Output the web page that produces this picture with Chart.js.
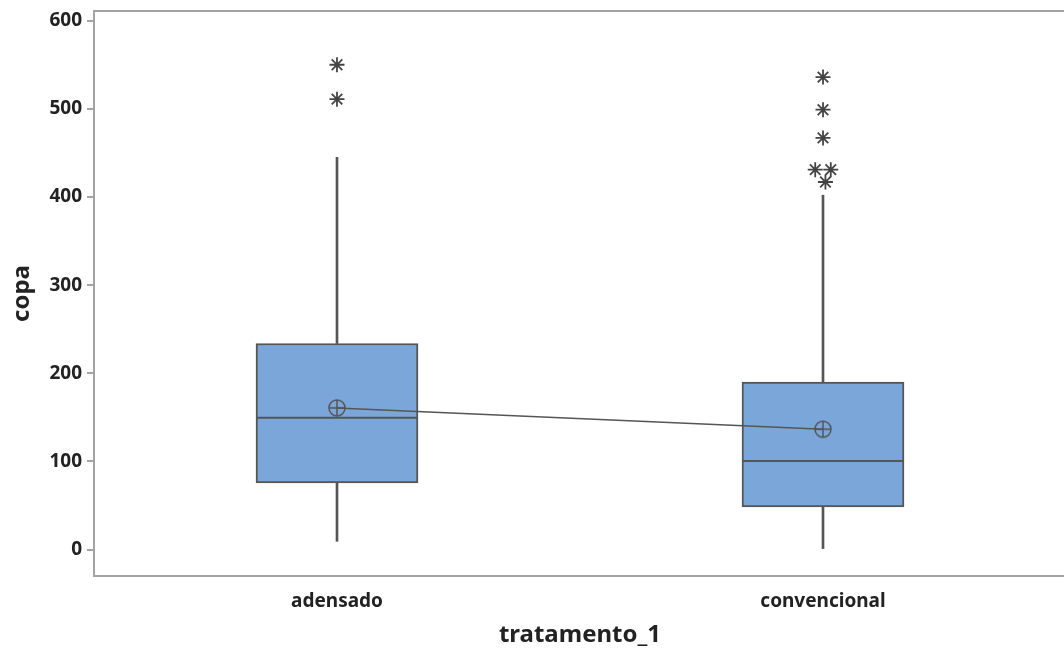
<!DOCTYPE html>
<html>
<head>
<meta charset="utf-8">
<script src="https://cdn.jsdelivr.net/npm/chart.js@4.4.1/dist/chart.umd.min.js"></script>
<style>
  html, body { margin: 0; padding: 0; background: #fff; overflow: hidden; }
  #wrap { width: 1066px; height: 650px; }
</style>
</head>
<body>
<div id="wrap"><canvas id="chart" width="1066" height="650"></canvas></div>
<script>
const categories = ['adensado', 'convencional'];
const q1 = [75.6, 48.4];
const median = [149.4, 100.6];
const q3 = [233.8, 190];
const whiskerLow = [9.4, 0];
const whiskerHigh = [445, 402];
const means = [160.7, 136.5];
// outliers (x = indice da categoria, pequeno deslocamento onde se sobrepõem)
const outlierX = [0, 0, 1, 1, 1, 0.984, 1.016, 1.005];
const outlierY = [550, 511, 536, 499, 467, 431, 431, 417];
const yTicks = [0, 100, 200, 300, 400, 500, 600];

const boxFill = '#7ba6da';
const lineGray = '#555555';
const tickFont = { family: 'Noto Sans', size: 19, weight: 'bold' };
const titleFont = { family: 'Noto Sans', size: 24, weight: 'bold' };

// simbolo da media: circulo com cruz
function meanSymbol() {
  const c = document.createElement('canvas');
  c.width = 20; c.height = 20;
  const g = c.getContext('2d');
  g.strokeStyle = lineGray;
  g.lineWidth = 1.5;
  g.beginPath(); g.arc(10, 10, 8, 0, Math.PI * 2); g.stroke();
  g.beginPath();
  g.moveTo(2, 10); g.lineTo(18, 10);
  g.moveTo(10, 2); g.lineTo(10, 18);
  g.stroke();
  return c;
}

const framePlugin = {
  id: 'frame',
  afterDraw(chart) {
    const { ctx, chartArea: a } = chart;
    ctx.save();
    ctx.strokeStyle = '#a3a3a3';
    ctx.lineWidth = 2;
    ctx.strokeRect(a.left, a.top, a.right - a.left, a.bottom - a.top);
    ctx.restore();
  }
};

const ctx = document.getElementById('chart').getContext('2d');
new Chart(ctx, {
  type: 'bar',
  data: {
    datasets: [
      {
        // bigodes
        data: categories.map((c, i) => ({ x: i, y: [whiskerLow[i], q1[i]] }))
          .concat(categories.map((c, i) => ({ x: i, y: [q3[i], whiskerHigh[i]] }))),
        backgroundColor: lineGray,
        borderWidth: 0,
        barThickness: 2,
        grouped: false,
        order: 5
      },
      {
        // caixas
        data: categories.map((c, i) => ({ x: i, y: [q1[i], q3[i]] })),
        backgroundColor: boxFill,
        borderColor: lineGray,
        borderWidth: 2,
        borderSkipped: false,
        barThickness: 162,
        grouped: false,
        order: 4
      },
      {
        // medianas
        type: 'line',
        data: categories.map((c, i) => ({ x: i, y: median[i] })),
        showLine: false,
        pointStyle: 'line',
        pointRadius: 80,
        pointBorderWidth: 2,
        pointBorderColor: lineGray,
        order: 3
      },
      {
        // medias ligadas
        type: 'line',
        data: categories.map((c, i) => ({ x: i, y: means[i] })),
        borderColor: lineGray,
        borderWidth: 1.5,
        pointStyle: meanSymbol(),
        order: 2
      },
      {
        // outliers
        type: 'scatter',
        data: outlierX.map((x, i) => ({ x: x, y: outlierY[i] })),
        pointStyle: 'star',
        pointRadius: 7.5,
        pointBorderWidth: 1.8,
        pointBorderColor: '#444444',
        order: 1
      }
    ]
  },
  options: {
    responsive: false,
    animation: false,
    layout: { autoPadding: false, padding: { top: 11, right: 0, bottom: 0, left: 0 } },
    plugins: {
      legend: { display: false },
      tooltip: { enabled: false }
    },
    scales: {
      x: {
        type: 'linear',
        min: -0.5,
        max: 1.5,
        offset: false,
        afterBuildTicks: axis => { axis.ticks = categories.map((c, i) => ({ value: i })); },
        afterFit: axis => { axis.height = 74; axis.paddingLeft = 0; axis.paddingRight = 0; },
        grid: { display: false },
        border: { display: false },
        ticks: {
          callback: v => categories[v],
          font: tickFont,
          color: '#222',
          padding: 6,
          maxRotation: 0
        },
        title: {
          display: true,
          text: 'tratamento_1',
          font: titleFont,
          color: '#222',
          padding: { top: 0, bottom: 0 }
        }
      },
      y: {
        min: -30,
        max: 611,
        afterBuildTicks: axis => { axis.ticks = yTicks.map(v => ({ value: v })); },
        afterFit: axis => { axis.width = 94; axis.paddingTop = 0; axis.paddingBottom = 0; },
        grid: {
          drawOnChartArea: false,
          drawTicks: true,
          tickLength: 7,
          color: '#a3a3a3',
          lineWidth: 2
        },
        border: { display: false },
        ticks: {
          font: tickFont,
          color: '#222',
          padding: 5
        },
        title: {
          display: true,
          text: 'copa',
          font: titleFont,
          color: '#222',
          padding: { top: 8, bottom: 0 }
        }
      }
    }
  },
  plugins: [framePlugin]
});
</script>
</body>
</html>
